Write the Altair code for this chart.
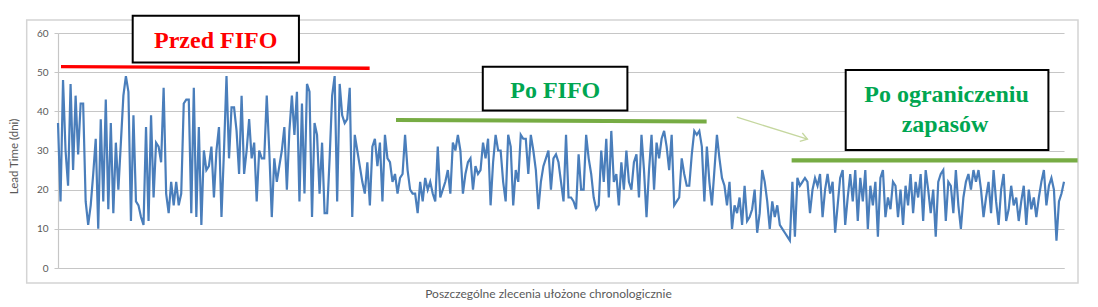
import altair as alt
import pandas as pd

# ---- data ----
lead_time_part1 = [37,17,48,30,21,47,25,44,29,42,42,17,11,16,24,33,10,38,17,43,15,37,14,32,20,32,44,49,45,12,
                   39,17,16,13,11,36,12,39,18,32,31,27,46,19,14,22,16,22,16,19,42,43,43,14]
lead_time_part2 = [46,13,36,11,30,25,26,31,18,30,36,13,30,49,28,41,41,35,24,44,24,30,38,28,32,17,30,28,28,44,
                   30,13,28,22,26,30,36,20,35,44,34,45,17,42,19,47,45,13,37,34,19,32,14,14]
lead_time_part3 = [28,44,49,17,47,39,37,38,46,13,34,30,26,22,19,27,16,31,33,26,32,17,34,28,27,22,24,19,23,24,
                   34,25,20,19,19,14,22,17,23,20,22,19,17,31,18,20,22,25,19,32,30,34,30,19,24,27,28]
lead_time_part4 = [20,26,24,25,32,28,33,16,27,34,30,30,22,17,34,31,16,25,22,34,33,33,24,34,30,25,15,22,26,28,
                   30,20,28,29,27,22,17,34,18,18,17,15,29,20,20,34,28,24,18,15,16,30,22,33]
lead_time_part5 = [18,35,22,24,16,27,20,30,22,20,27,29,18,34,25,13,25,34,20,32,28,33,35,31,25,34,16,17,18,28,
                   24,21,21,29,35,34,35,31,17,31,22,16,25,34,28,23,21,16,22,10,16,14,18,11,21,12,13,15,20,9,14]
lead_time_part6 = [25,22,17,10,17,13,16,11,10,9,8,7,22,8,23,21,22,23,22,14,20,23,21,24,13,20,24,19,22,9,
                   16,23,25,11,18,24,17,25,12,23,17,25,10,21,16,22,8,23,25,13,18,15,22,21,13,20,11,21,16,24,
                   14,22,18,24,12,25,20,14,20,8,22,24,25,12,22,21,14,25,16,10,18,22,24,20,25,22,25,20,13,18,
                   22,14,25,17,11,20,24,12,15,21,16,18,12,17,21,11,20,15,18,13,18,22,25,16,21,23,20,7,17,19,22]

y_ticks = [0, 10, 20, 30, 40, 50, 60]
y_title = "Lead Time (dni)"
x_title = "Poszczególne zlecenia ułożone chronologicznie"

labels = ["Przed FIFO", "Po FIFO", "Po ograniczeniu", "zapasów"]

values = (lead_time_part1 + lead_time_part2 + lead_time_part3 +
          lead_time_part4 + lead_time_part5 + lead_time_part6)
df = pd.DataFrame({"idx": list(range(len(values))), "lead": values})

# ---- annotation geometry (in data units) ----
boxes = pd.DataFrame({
    "idx": [29.7, 168.9, 313.2], "idx2": [95.8, 226.4, 393.8],
    "lead": [52.5, 40.2, 30.1], "lead2": [64.4, 51.4, 50.55],
})
texts = pd.DataFrame({
    "idx": [62.7, 197.7, 353.3, 352.7],
    "lead": [56.1, 43.3, 42.4, 34.7],
    "t": labels,
    "c": ["#ff0000", "#00a651", "#00a651", "#00a651"],
})
segs = pd.DataFrame({
    "idx": [1.2, 134.4, 291.7], "idx2": [123.9, 257.9, 405.4],
    "lead": [51.4, 37.8, 27.5], "lead2": [51.0, 37.4, 27.5],
    "c": ["#ff0000", "#77ac44", "#77ac44"], "w": [3.3, 4, 4.3],
})
arrow = pd.DataFrame({"idx": [269.9], "idx2": [298.0], "lead": [38.5], "lead2": [32.9]})

W, H = 1006, 235
xs = alt.Scale(domain=[0, 400], nice=False, zero=False)
ys = alt.Scale(domain=[0, 60], nice=False)
FONT = "Lato"

ax_x = alt.Axis(title=x_title, labels=False, ticks=False, grid=False,
                domainColor="#c6c6c6", domainWidth=1.2,
                titleX=548 - 58, titleY=25, titleBaseline="middle",
                titleFont=FONT, titleFontSize=12, titleFontWeight="normal",
                titleColor="#595959")
ax_y = alt.Axis(title=y_title, values=y_ticks, grid=True, gridColor="#c6c6c6",
                gridWidth=1.2, tickSize=4, tickColor="#c6c6c6", labelOverlap=False,
                domainColor="#c6c6c6", domainWidth=1.2,
                labelFont=FONT, labelFontSize=10, labelColor="#595959", labelPadding=6,
                titleFont=FONT, titleFontSize=11.5, titleFontWeight="normal",
                titleColor="#595959", titleX=-44, titleY=123, titleAngle=-90,
                titleAlign="center", titleBaseline="middle")

X = alt.X("idx:Q", scale=xs, axis=ax_x, title=x_title)
Y = alt.Y("lead:Q", scale=ys, axis=ax_y, title=y_title)

frame = alt.Chart(pd.DataFrame({"a": [0]})).mark_rect(
    filled=False, stroke="#d4d4d4", strokeWidth=1.5
).encode(x=alt.value(-31.3), x2=alt.value(1020), y=alt.value(-13), y2=alt.value(250))

line = alt.Chart(df).mark_line(color="#4a7ebb", strokeWidth=2.2).encode(x=X, y=Y)

seg_layer = alt.Chart(segs).mark_rule().encode(
    x=X, x2="idx2:Q", y=Y, y2="lead2:Q",
    color=alt.Color("c:N", scale=None),
    strokeWidth=alt.StrokeWidth("w:Q", scale=None),
)

arrow_shaft = alt.Chart(arrow).mark_rule(color="#c5d79f", strokeWidth=1.3).encode(
    x=X, x2="idx2:Q", y=Y, y2="lead2:Q")
arrow_head = alt.Chart(arrow).mark_point(
    shape="M-1,-0.65L0,0L-1,0.65", filled=False, color="#c5d79f", strokeWidth=1.3,
    size=180, angle=17, opacity=1
).encode(x=alt.X("idx2:Q", scale=xs, axis=ax_x, title=x_title),
         y=alt.Y("lead2:Q", scale=ys, axis=ax_y, title=y_title))

box_layer = alt.Chart(boxes).mark_rect(fill="white", stroke="black", strokeWidth=2).encode(
    x=X, x2="idx2:Q", y=Y, y2="lead2:Q")

text_layer = alt.Chart(texts).mark_text(
    font="Liberation Serif", fontWeight="bold", fontSize=24, align="center", baseline="alphabetic"
).encode(
    x=X, y=Y, text="t:N", color=alt.Color("c:N", scale=None),
)

chart = alt.layer(line, frame, seg_layer, arrow_shaft, arrow_head, box_layer, text_layer).properties(
    width=W, height=H,
    autosize=alt.AutoSizeParams(type="none"),
    padding={"left": 58, "top": 33, "right": 34, "bottom": 39},
    background="white",
).configure_view(stroke=None)

chart.save("out.html", embed_options={"renderer": "svg", "actions": False})
